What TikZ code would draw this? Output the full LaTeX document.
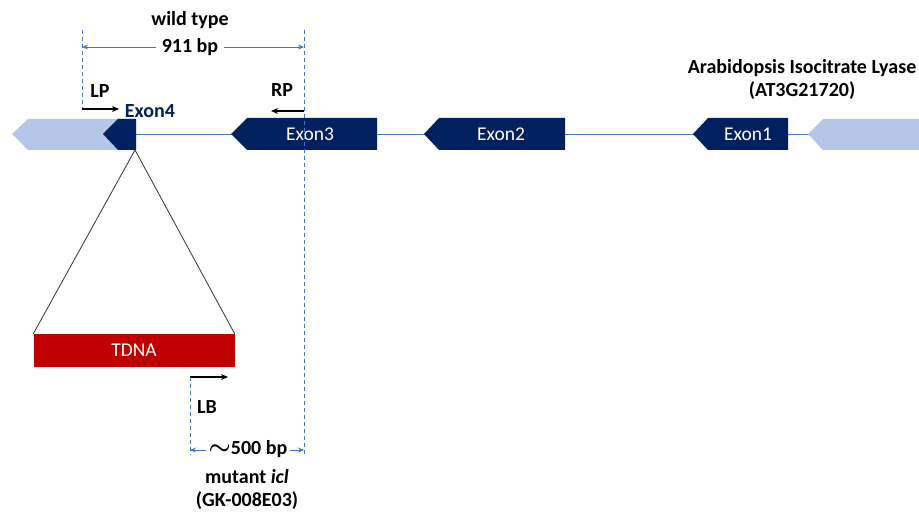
\documentclass[tikz,border=0pt]{standalone}
\usepackage{amsmath}
\usepackage{fontspec}
\setmainfont{Carlito}
\usetikzlibrary{arrows.meta}
\definecolor{navy}{HTML}{002060}
\definecolor{utr}{HTML}{B4C7E7}
\definecolor{lineblue}{HTML}{4472C4}
\definecolor{tdnared}{HTML}{C00000}
\begin{document}
\begin{tikzpicture}[x=1pt,y=-1pt,
 exonshape/.style={fill=navy},
 utrshape/.style={fill=utr},
 exonlabel/.style={text=white,font=\fontsize{19.5}{22}\selectfont},
 lbl/.style={font=\bfseries\fontsize{20}{23}\selectfont, inner sep=0pt},
 dimline/.style={lineblue, dash pattern=on 4pt off 3pt, line width=0.8pt},
 dimarrow/.style={lineblue, line width=0.8pt, {Stealth[length=6pt,width=5pt]}-{Stealth[length=6pt,width=5pt]}},
 primer/.style={black, line width=1.6pt, -{Stealth[length=7pt,width=6pt]}},
 tri/.style={black!80, line width=0.8pt},
]
\useasboundingbox (0,0) rectangle (919,513);
% backbone
\draw[lineblue, line width=1pt] (136,135) -- (820,135);
% UTRs
\fill[utrshape] (12,134) -- (28,119) -- (136,119) -- (136,150) -- (28,150) -- cycle;
\fill[utrshape] (808,134) -- (823,119) -- (919,119) -- (919,150) -- (823,150) -- cycle;
% exons
\fill[exonshape] (103,134) -- (118,119) -- (136,119) -- (136,150) -- (118,150) -- cycle;
\fill[exonshape] (231,134) -- (247,118) -- (377,118) -- (377,150) -- (247,150) -- cycle;
\fill[exonshape] (424,134) -- (439,118) -- (565,118) -- (565,150) -- (439,150) -- cycle;
\fill[exonshape] (693,134) -- (708,118) -- (788,118) -- (788,150) -- (708,150) -- cycle;
\node[exonlabel] (e3) at (310,134) {Exon3};
\node[exonlabel] (e2) at (501,134) {Exon2};
\node[exonlabel] (e1) at (748,134) {Exon1};
\node[lbl, text=navy] (e4) at (150,111) {Exon4};
% insertion triangle and TDNA
\coordinate (apex) at (135,150);
\node[fill=tdnared, minimum width=201pt, minimum height=33pt, inner sep=0pt, text=white,
      font=\fontsize{19.5}{22}\selectfont] (tdna) at (134,350.5) {TDNA};
\draw[tri] (tdna.north west) -- (apex) -- (tdna.north east);
% gene title
\node[lbl, align=center] (title) at (802,79) {Arabidopsis Isocitrate Lyase\\(AT3G21720)};
% wild type dimension
\coordinate (wl) at (82,47);
\coordinate (wr) at (304,47);
\draw[dimline] (82,30) -- (82,110);
\draw[dimline] (304,30) -- (304,455);
\draw[dimarrow] (wl) -- (wr);
\node[lbl, fill=white, inner xsep=6pt, inner ysep=2pt] (wt) at (190,47) {911 bp};
\node[lbl] (wild) at (190,20) {wild type};
% primers
\coordinate (lp0) at (82,109);
\coordinate (lp1) at (119,109);
\draw[primer] (lp0) -- (lp1);
\node[lbl] (lp) at (100,91) {LP};
\coordinate (rp0) at (304,111);
\coordinate (rp1) at (271,111);
\draw[primer] (rp0) -- (rp1);
\node[lbl] (rp) at (282,90) {RP};
\coordinate (lb0) at (190,377);
\coordinate (lb1) at (228,377);
\draw[primer] (lb0) -- (lb1);
\node[lbl] (lb) at (207,407) {LB};
% mutant dimension
\draw[dimline] (190,377) -- (190,455);
\coordinate (ml) at (190,450);
\coordinate (mr) at (304,450);
\draw[dimarrow] (ml) -- (mr);
\node[lbl, fill=white, inner xsep=3pt, inner ysep=2pt] (mb) at (248,449) {{\fontsize{27}{27}\selectfont$\boldsymbol{\sim}$}500 bp};
\node[lbl, align=center] (mut) at (247,489) {mutant \textit{icl}\\(GK-008E03)};
\end{tikzpicture}
\end{document}
